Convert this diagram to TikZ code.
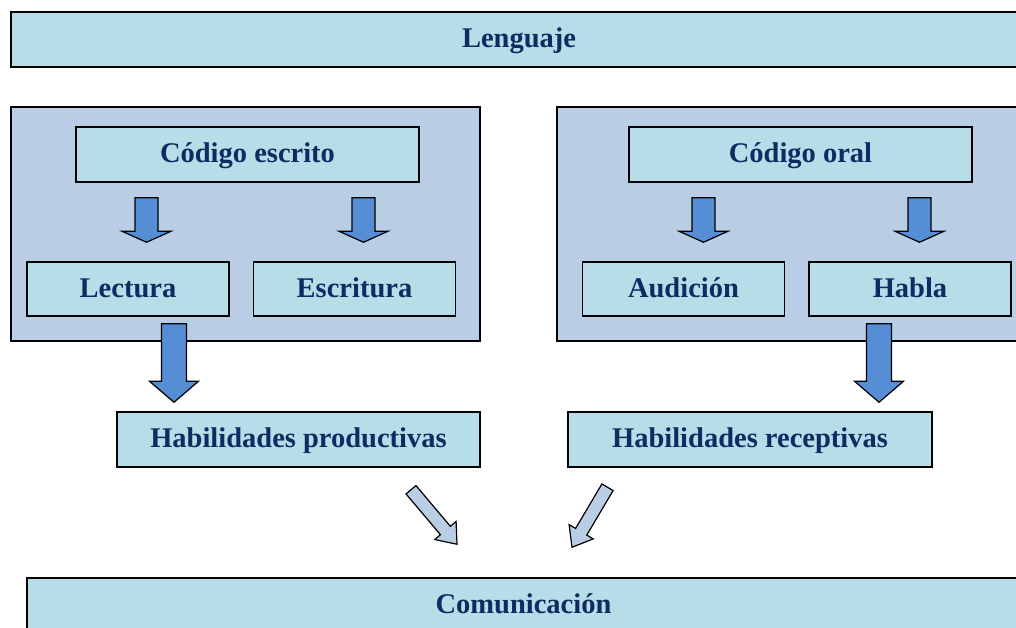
\documentclass[tikz,border=0pt]{standalone}
\usepackage{fontspec}
\setmainfont{Liberation Serif}
\usepackage{xcolor}
\usetikzlibrary{calc}

\definecolor{cajaclara}{HTML}{B7DDE8}
\definecolor{grupoazul}{HTML}{B9CDE5}
\definecolor{flechaazul}{HTML}{558ED5}
\definecolor{textoazul}{HTML}{0F2B62}

\tikzset{
  caja/.style={draw=black, line width=1.5pt, fill=cajaclara, text=textoazul,
    font=\fontsize{28.5}{34}\selectfont\bfseries, minimum height=55pt, inner sep=0pt,
    text height=20pt, text depth=4pt},
  grupo/.style={draw=black, line width=1.5pt, fill=grupoazul,
    minimum width=469pt, minimum height=234pt},
  flechaA/.style={draw=black, line width=1.2pt, fill=flechaazul},
  flechaB/.style={draw=black, line width=1.2pt, fill=grupoazul},
}

% block arrow: style, tail, tip, shaft half width, head half width, head length
\newcommand{\flechabloque}[6]{%
  \path #2 coordinate (fa) #3 coordinate (fb);
  \coordinate (fh) at ($(fb)!#6pt!(fa)$);
  \draw[#1] ($(fa)!#4pt!90:(fb)$) -- ($(fh)!#4pt!90:(fb)$) -- ($(fh)!#5pt!90:(fb)$)
    -- (fb) -- ($(fh)!#5pt!-90:(fb)$) -- ($(fh)!#4pt!-90:(fb)$) -- ($(fa)!#4pt!-90:(fb)$) -- cycle;
}

\begin{document}
\begin{tikzpicture}[x=1pt, y=-1pt]
        \clip (0,0) rectangle (1016,628);

        % Top and bottom bars
        \node[caja, minimum width=1016pt] (lenguaje) at (519,39.5) {Lenguaje};
        \node[caja, minimum width=993pt] (comunicacion) at (523.5,605.5) {Comunicación};

        % Group panels
        \node[grupo] (grupoesc) at (245.5,224) {};
        \node[grupo] (grupooral) at (791.5,224) {};

        % Written code
        \node[caja, minimum width=343pt] (codesc) at (247.5,154.5) {Código escrito};
        \node[caja, minimum width=202pt, minimum height=54pt] (lectura) at (128,289) {Lectura};
        \node[caja, minimum width=202pt, minimum height=54pt] (escritura) at (354.5,289) {Escritura};

        % Oral code
        \node[caja, minimum width=343pt] (codoral) at (800.5,154.5) {Código oral};
        \node[caja, minimum width=202pt, minimum height=54pt] (audicion) at (683.5,289) {Audición};
        \node[caja, minimum width=202pt, minimum height=54pt] (habla) at (910,289) {Habla};

        % Skills
        \node[caja, minimum width=363pt] (hprod) at (298.5,439.5) {Habilidades productivas};
        \node[caja, minimum width=364pt] (hrec) at (750,439.5) {Habilidades receptivas};

        % Small arrows inside the panels
        \flechabloque{flechaA}{($(lectura.north |- codesc.south)+(18.5,15)$)}{($(lectura.north)+(18.5,-19)$)}{11.5}{24.5}{11}
        \flechabloque{flechaA}{($(escritura.north |- codesc.south)+(9,15)$)}{($(escritura.north)+(9,-19)$)}{11.5}{24.5}{11}
        \flechabloque{flechaA}{($(audicion.north |- codoral.south)+(20,15)$)}{($(audicion.north)+(20,-19)$)}{11.5}{24.5}{11}
        \flechabloque{flechaA}{($(habla.north |- codoral.south)+(9.5,15)$)}{($(habla.north)+(9.5,-19)$)}{11.5}{24.5}{11}

        % Big arrows to the skills
        \flechabloque{flechaA}{($(lectura.south)+(46,7)$)}{($(lectura.south |- hprod.north)+(46,-9)$)}{12.5}{24.5}{21}
        \flechabloque{flechaA}{($(habla.south)+(-31,7)$)}{($(habla.south |- hrec.north)+(-31,-9)$)}{12.5}{24.5}{21}

        % Diagonal arrows to communication
        \flechabloque{flechaB}{($(hprod.south)+(112.5,22)$)}{($(comunicacion.north)+(-66.5,-33)$)}{6.5}{14}{18}
        \flechabloque{flechaB}{($(hrec.south)+(-142.5,19.5)$)}{($(comunicacion.north)+(48.5,-30)$)}{6.5}{14}{18}
    \end{tikzpicture}
\end{document}
